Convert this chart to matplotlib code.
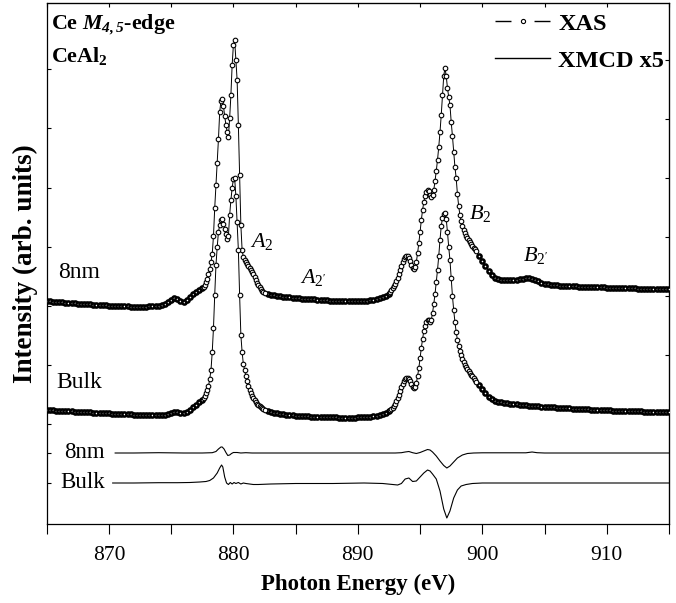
import numpy as np
import matplotlib
matplotlib.use("Agg")
import matplotlib.pyplot as plt
from matplotlib.lines import Line2D

plt.rcParams['font.family'] = ['Liberation Serif', 'DejaVu Serif']
plt.rcParams['mathtext.fontset'] = 'custom'
plt.rcParams['mathtext.rm'] = 'Liberation Serif'
plt.rcParams['mathtext.it'] = 'Liberation Serif:italic'
plt.rcParams['mathtext.bf'] = 'Liberation Serif:bold'
try:
    plt.rcParams['mathtext.bfit'] = 'Liberation Serif:italic:bold'
    HAS_BFIT = True
except KeyError:
    HAS_BFIT = False

# ---------------- energy grid (eV) ----------------
E_seg1 = np.round(np.arange(865.0, 877.5 + 1e-6, 0.25), 2)
E_segA = np.round(np.arange(877.6, 882.5 + 1e-6, 0.1), 2)
E_seg2 = np.round(np.arange(882.75, 892.5 + 1e-6, 0.25), 2)
E_segB = np.round(np.arange(892.6, 899.5 + 1e-6, 0.1), 2)
E_seg3 = np.round(np.arange(899.75, 915.0 + 1e-6, 0.25), 2)
energy = np.concatenate([E_seg1, E_segA, E_seg2, E_segB, E_seg3])

# ---------------- XAS 8nm (offset, arb. units) ----------------
xas_8nm_1 = [223, 223, 222.5, 222.5, 222, 222, 221.5, 221.5, 221, 221, 220.5, 220.5, 220, 220, 220,
             219.5, 219.5, 219, 219, 219, 218.5, 218.5, 218.5, 218, 218, 218, 218, 217.5, 217.5, 217.5,
             217.5, 217.5, 217.5, 218, 218, 218.5, 218.5, 219, 220, 222, 224.5, 226, 225.5, 223.5, 222,
             224, 227, 230, 232.5, 234.5, 236]
xas_8nm_A = [237, 239, 242, 245, 250, 255, 262, 270, 288, 316, 339, 361, 385, 412, 423, 425, 418, 408,
             399, 392, 387, 406, 429, 459, 479, 484, 464, 444, 399, 349, 299, 274, 267, 264, 262, 260,
             258, 256, 254, 252, 250, 247, 244, 241, 239, 237, 235, 233.5, 232.5, 231.5]
xas_8nm_2 = [230.5, 229.5, 229, 228.5, 228, 227.5, 227, 227, 226.5, 226, 226, 225.5, 225.5, 225, 225,
             225, 224.5, 224, 224, 224, 223.5, 223.5, 223.5, 223, 223, 223, 223, 223, 223, 223, 223,
             223, 223.5, 224, 224.5, 225, 226, 227, 228.5, 230.5]
xas_8nm_B = [232, 234, 236, 238, 240, 243, 246, 250, 254, 258, 262, 265, 267, 268, 268, 266, 263, 259,
             256, 255, 257, 262, 271, 281, 292, 304, 314, 322, 328, 332, 334, 333, 329, 327, 329, 334,
             343, 353, 364, 377, 392, 409, 429, 448, 456, 448, 436, 427, 419, 402, 388, 372, 357, 346,
             330, 318, 309, 303, 298, 294, 291, 288, 286, 284, 282, 280, 278, 276, 275, 273]
xas_8nm_3 = [268, 263, 258, 253, 249, 246.5, 245, 244.5, 244, 244, 244, 244, 244.5, 245, 245.5, 246,
             246, 245.5, 244.5, 243, 241.5, 240.5, 240, 239.5, 239, 239, 238.5, 238.5, 238.5, 238, 238,
             238, 237.5, 237.5, 237.5, 237.5, 237, 237, 237, 237, 237, 236.5, 236.5, 236.5, 236.5, 236,
             236, 236, 236, 236, 236, 235.5, 235.5, 235.5, 235.5, 235.5, 235, 235, 235, 235, 235, 235]

# ---------------- XAS Bulk (offset, arb. units) ----------------
xas_bulk_1 = [114, 114, 114, 113.5, 113.5, 113.5, 113, 113, 113, 112.5, 112.5, 112.5, 112, 112, 112,
              111.5, 111.5, 111.5, 111, 111, 111, 110.5, 110.5, 110.5, 110, 110, 110, 110, 109.5, 109.5,
              109.5, 109.5, 109, 109, 109, 109, 109, 109, 109.5, 110.5, 111.5, 112.5, 112.5, 111.5, 111,
              112.5, 114.5, 117, 119.5, 122, 124.5]
xas_bulk_A = [126, 128, 131, 134, 138, 145, 154, 172, 196, 229, 259, 277, 292, 299, 304, 305, 300, 295,
              290, 285, 288, 309, 324, 336, 345, 346, 328, 302, 274, 229, 189, 172, 160, 154, 148, 143,
              138, 134, 131, 128, 126, 124, 122, 120.5, 119, 118, 117, 116, 115, 114]
xas_bulk_2 = [113, 112, 111.5, 111, 110.5, 110, 109.5, 109, 109, 108.5, 108.5, 108, 108, 108, 107.5,
              107.5, 107.5, 107, 107, 107, 107, 107, 107, 106.5, 106.5, 106.5, 106.5, 106.5, 106.5, 107,
              107, 107, 107.5, 107.5, 108, 108.5, 109, 110, 111.5, 113]
xas_bulk_B = [114, 115, 116.5, 118, 120, 123, 126, 129, 133, 137, 140, 143, 145, 146, 146, 145, 143, 140,
              137, 136, 137, 141, 148, 156, 166, 176, 185, 193, 198, 202, 204, 204, 202, 204, 211, 220,
              230, 242, 254, 268, 284, 298, 306, 310, 311, 305, 292, 277, 264, 246, 228, 214, 202, 192,
              184, 178, 173, 169, 165, 162, 159, 157, 155, 153, 151, 149, 148, 146, 144, 142]
xas_bulk_3 = [139, 135, 131, 127.5, 125, 123.5, 122.5, 122, 121.5, 121, 120.5, 120, 120, 119.5, 119, 119,
              118.5, 118.5, 118, 118, 117.5, 117.5, 117, 117, 117, 116.5, 116.5, 116, 116, 116, 115.5,
              115.5, 115.5, 115, 115, 115, 114.5, 114.5, 114.5, 114, 114, 114, 114, 113.5, 113.5, 113.5,
              113.5, 113, 113, 113, 113, 113, 113, 112.5, 112.5, 112.5, 112.5, 112.5, 112.5, 112, 112, 112]

xas_8nm = np.concatenate([xas_8nm_1, xas_8nm_A, xas_8nm_2, xas_8nm_B, xas_8nm_3])
xas_bulk = np.concatenate([xas_bulk_1, xas_bulk_A, xas_bulk_2, xas_bulk_B, xas_bulk_3])
assert len(xas_8nm) == len(energy) and len(xas_bulk) == len(energy)

# ---------------- XMCD (already multiplied by 5) ----------------
xmcd_8nm_E = [870.5, 872, 874, 876, 877.5, 878.3, 878.6, 878.8, 879.0, 879.1, 879.25, 879.4, 879.55,
              879.7, 879.85, 880.0, 880.3, 880.6, 881.0, 881.5, 882.5, 884, 886, 888, 890, 892, 893.0,
              893.5, 893.8, 894.1, 894.4, 894.7, 895.0, 895.3, 895.6, 895.8, 896.0, 896.3, 896.6, 896.9,
              897.15, 897.4, 897.7, 898.0, 898.4, 898.8, 899.3, 900, 902, 903.5, 904.0, 904.4, 905, 907,
              910, 913, 915]
xmcd_8nm_x5 = [0, 0, 0.3, 0, 0, 0.3, 1.5, 4, 6, 6, 4, 0.5, -2.5, -2, -0.5, 0.5, 0.5, 0, 0.3, 0, 0, 0, 0,
               0, 0, 0, 0, 0.3, 1, 1.5, 0.3, -0.5, 0.5, 2, 3.5, 3, 1, -3, -8, -12.5, -15, -13, -9, -5,
               -2, -0.5, 0, 0.2, 0.2, 0.2, 1, 0.3, 0, 0, 0, 0, 0]
xmcd_bulk_E = [870.3, 872, 874, 875.5, 876.5, 877.3, 877.8, 878.1, 878.4, 878.7, 878.9, 879.05, 879.15,
               879.3, 879.45, 879.6, 879.75, 879.9, 880.05, 880.2, 880.4, 880.6, 880.8, 881.0, 881.3,
               881.6, 882, 883, 885, 888, 890.5, 892, 892.8, 893.2, 893.5, 893.8, 894.1, 894.4, 894.7,
               895.0, 895.3, 895.6, 895.8, 896.0, 896.3, 896.6, 896.9, 897.15, 897.4, 897.7, 898.0,
               898.3, 898.7, 899.2, 900, 903, 906, 910, 915]
xmcd_bulk_x5 = [0, 0, 0.3, 0.3, 0.5, 1, 1.5, 2.5, 5, 10, 15, 18, 16, 6, 0, -1.5, 0.5, -1, 0.5, -0.5,
                0.5, -1, 0, -0.5, -1, -1.5, -1.5, -1, -0.5, -0.5, 0, -0.5, -1.5, -2, -0.5, 4, 5, 1.5,
                2, 6, 10, 13, 12, 9, 4, -8, -26, -35, -28, -15, -7, -3, -1.5, -0.5, 0, 0, 0, 0, 0]
assert len(xmcd_8nm_E) == len(xmcd_8nm_x5) and len(xmcd_bulk_E) == len(xmcd_bulk_x5)
xmcd_offset_8nm = 71
xmcd_offset_bulk = 41

# ticks
x_major = [870, 880, 890, 900, 910]
x_minor = [865, 875, 885, 895, 905, 915]
y_ticks_left = [455, 396, 336, 277, 218, 159, 100, 71, 41]
y_ticks_right = [464, 405, 346, 287, 228, 169, 111]

# which points lie on the fine-step (peak) parts of the grid
is_peak = np.concatenate([np.zeros(len(E_seg1)), np.ones(len(E_segA)), np.zeros(len(E_seg2)),
                          np.ones(len(E_segB)), np.zeros(len(E_seg3))]).astype(bool)

fig = plt.figure(figsize=(6.76, 6.03), dpi=100)
ax = fig.add_axes([46.7 / 676, 1 - 524 / 603, (669 - 46.7) / 676, (524 - 2.7) / 603])
ax.set_xlim(865, 915)
ax.set_ylim(0, 521.3)

for xas in (xas_8nm, xas_bulk):
    ax.plot(energy, xas, '-', color='k', lw=0.7, zorder=2)
for xas in (xas_8nm, xas_bulk):
    ax.plot(energy[~is_peak], xas[~is_peak], ls='none', marker='o', ms=3.0,
            mfc='white', mec='k', mew=1.8, zorder=3)
    ax.plot(energy[is_peak], xas[is_peak], ls='none', marker='o', ms=3.3,
            mfc='white', mec='k', mew=0.8, zorder=3)
ax.plot(xmcd_8nm_E, xmcd_offset_8nm + np.array(xmcd_8nm_x5), color='k', lw=0.8)
ax.plot(xmcd_bulk_E, xmcd_offset_bulk + np.array(xmcd_bulk_x5), color='k', lw=0.8)

for s in ax.spines.values():
    s.set_linewidth(0.9)

ax.set_xticks(x_major)
ax.set_xticks(x_minor, minor=True)
ax.tick_params(axis='x', which='both', direction='out', length=7, width=0.8,
               labelsize=15.5, pad=8.5)
ax.set_yticks(y_ticks_left)
ax.tick_params(axis='y', which='both', direction='in', length=3, width=0.8, labelleft=False)

sx = ax.secondary_xaxis('top')
sx.set_xticks(x_major + x_minor)
sx.tick_params(direction='in', length=3, width=0.8, labeltop=False)
sx.set_xticklabels([])
sy = ax.secondary_yaxis('right')
sy.set_yticks(y_ticks_right)
sy.tick_params(direction='in', length=3, width=0.8)
sy.set_yticklabels([])

ax.set_xlabel('Photon Energy (eV)', fontsize=16.5, fontweight='bold', labelpad=7)
ax.set_ylabel('Intensity (arb. units)', fontsize=19.5, fontweight='bold', labelpad=6)

# annotations
if HAS_BFIT:
    title1 = r'Ce $\mathbfit{M}_{\mathbfit{4,5}}$-edge'
else:
    title1 = r'Ce $M_{4,5}$-edge'
ax.text(0.007, (524 - 30) / 521.3, title1, transform=ax.transAxes, fontsize=15.8,
        fontweight='bold', ha='left', va='baseline')
ax.text(0.007, (524 - 62) / 521.3, r'CeAl$_\mathbf{2}$', transform=ax.transAxes, fontsize=15.8,
        fontweight='bold', ha='left', va='baseline')

ax.text(867.6, 252, '8nm', fontsize=17, ha='center', va='center')
ax.text(867.6, 142, 'Bulk', fontsize=17, ha='center', va='center')
ax.text(869.65, xmcd_offset_8nm, '8nm', fontsize=16.5, ha='right', va='center')
ax.text(869.65, xmcd_offset_bulk, 'Bulk', fontsize=16.5, ha='right', va='center')

ax.text(882.3, 283, r'$A_2$', fontsize=16, ha='center', va='center')
ax.text(886.4, 247, r"$A_{2'}$", fontsize=16, ha='center', va='center')
ax.text(899.8, 311, r'$B_2$', fontsize=16, ha='center', va='center')
ax.text(904.3, 269, r"$B_{2'}$", fontsize=16, ha='center', va='center')

h_xas = Line2D([], [], color='k', lw=1.0, linestyle=(0, (11.5, 16.6)), marker='o', ms=3,
               mfc='white', mec='k', mew=0.8)
h_xmcd = Line2D([], [], color='k', lw=1.0)
leg = ax.legend([h_xas, h_xmcd], ['XAS', 'XMCD x5'], loc='upper right',
                bbox_to_anchor=(1.0 + 1 / 622.3, 1.0 - 4 / 521.3), frameon=False, numpoints=1,
                prop={'weight': 'bold', 'size': 17.5}, handlelength=2.26,
                handletextpad=0.33, labelspacing=0.62, borderaxespad=0.0, borderpad=0.25)

fig.savefig('out.png', dpi=100)
